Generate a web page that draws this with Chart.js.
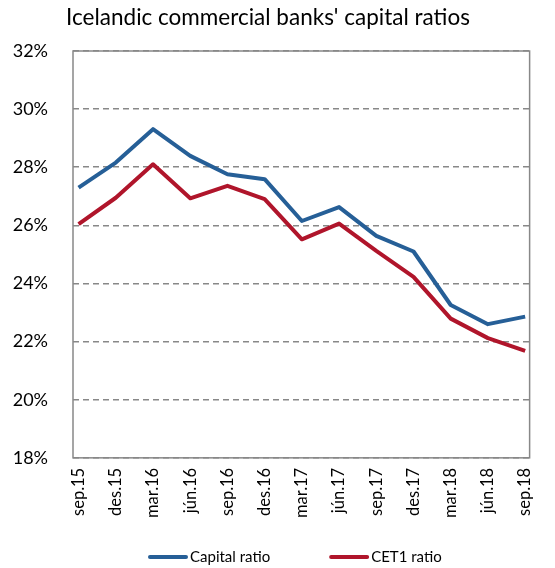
<!DOCTYPE html>
<html>
<head>
<meta charset="utf-8">
<script src="https://cdn.jsdelivr.net/npm/chart.js@4/dist/chart.umd.min.js"></script>
<style>
  html, body { margin: 0; padding: 0; background: #fff; }
  #wrap { width: 555px; height: 568px; position: relative; }
</style>
</head>
<body>
<div id="wrap"><canvas id="c" width="555" height="568"></canvas></div>
<script>
const title = "Icelandic commercial banks' capital ratios";
const categories = ["sep.15","des.15","mar.16","jún.16","sep.16","des.16","mar.17","jún.17","sep.17","des.17","mar.18","jún.18","sep.18"];
const capitalRatio = [27.30, 28.16, 29.31, 28.39, 27.76, 27.59, 26.15, 26.63, 25.64, 25.10, 23.26, 22.60, 22.86];
const cet1Ratio = [26.04, 26.95, 28.10, 26.93, 27.36, 26.90, 25.52, 26.06, 25.12, 24.23, 22.79, 22.12, 21.68];
const seriesNames = ["Capital ratio", "CET1 ratio"];
const yTicks = [18, 20, 22, 24, 26, 28, 30, 32];

const BLUE = "#265F97";
const RED = "#B0152B";
const FONT = "Lato, 'Liberation Sans', sans-serif";

const framePlugin = {
  id: 'frame',
  afterDatasetsDraw(chart) {
    const {ctx, chartArea: a} = chart;
    ctx.save();
    ctx.strokeStyle = '#888888';
    ctx.lineWidth = 1.5;
    ctx.strokeRect(a.left, a.top, a.right - a.left, a.bottom - a.top);
    ctx.restore();
  },
  afterDraw(chart) {
    const {ctx} = chart;
    ctx.save();
    // title
    ctx.font = "22.5px " + FONT;
    ctx.textAlign = 'center';
    ctx.textBaseline = 'middle';
    ctx.fillStyle = '#000';
    ctx.fillText(title, 268, 18);
    // legend
    ctx.textAlign = 'left';
    ctx.font = "15px " + FONT;
    const y = 557;
    let x = 148;
    chart.data.datasets.forEach((ds) => {
      ctx.strokeStyle = ds.borderColor;
      ctx.lineWidth = 4;
      ctx.lineCap = 'round';
      ctx.beginPath();
      ctx.moveTo(x + 2, y);
      ctx.lineTo(x + 38, y);
      ctx.stroke();
      ctx.fillText(ds.label, x + 42, y);
      x += 42 + ctx.measureText(ds.label).width + 59;
    });
    ctx.restore();
  }
};

new Chart(document.getElementById('c'), {
  type: 'line',
  data: {
    datasets: [
      { label: seriesNames[0], data: capitalRatio.map((v, i) => ({x: i, y: v})), borderColor: BLUE, backgroundColor: BLUE, borderWidth: 4, pointRadius: 0, tension: 0, borderJoinStyle: 'round' },
      { label: seriesNames[1], data: cet1Ratio.map((v, i) => ({x: i, y: v})), borderColor: RED, backgroundColor: RED, borderWidth: 4, pointRadius: 0, tension: 0, borderJoinStyle: 'round' }
    ]
  },
  options: {
    responsive: false,
    animation: false,
    layout: { padding: { left: 0, right: 5, top: 51, bottom: 40 } },
    plugins: {
      legend: { display: false },
      tooltip: { enabled: false },
      title: { display: false }
    },
    scales: {
      x: {
        type: 'linear', min: -0.15, max: 12.12,
        afterBuildTicks(scale) { scale.ticks = categories.map((_, i) => ({value: i})); },
        ticks: {
          autoSkip: false, minRotation: 90, maxRotation: 90, padding: 10,
          color: '#000', font: { family: FONT, size: 16.5 },
          callback: (v) => categories[v]
        },
        grid: { display: false, drawTicks: false },
        border: { display: false }
      },
      y: {
        min: 18, max: 32,
        afterBuildTicks(scale) { scale.ticks = yTicks.map(v => ({value: v})); },
        afterFit(scale) { scale.width = 73; },
        ticks: { color: '#000', font: { family: FONT, size: 18 }, padding: 25, callback: (v) => v + '%' },
        grid: { color: '#888888', lineWidth: 1.5, drawTicks: false },
        border: { display: false, dash: [6, 4] }
      }
    }
  },
  plugins: [framePlugin]
});
</script>
</body>
</html>
